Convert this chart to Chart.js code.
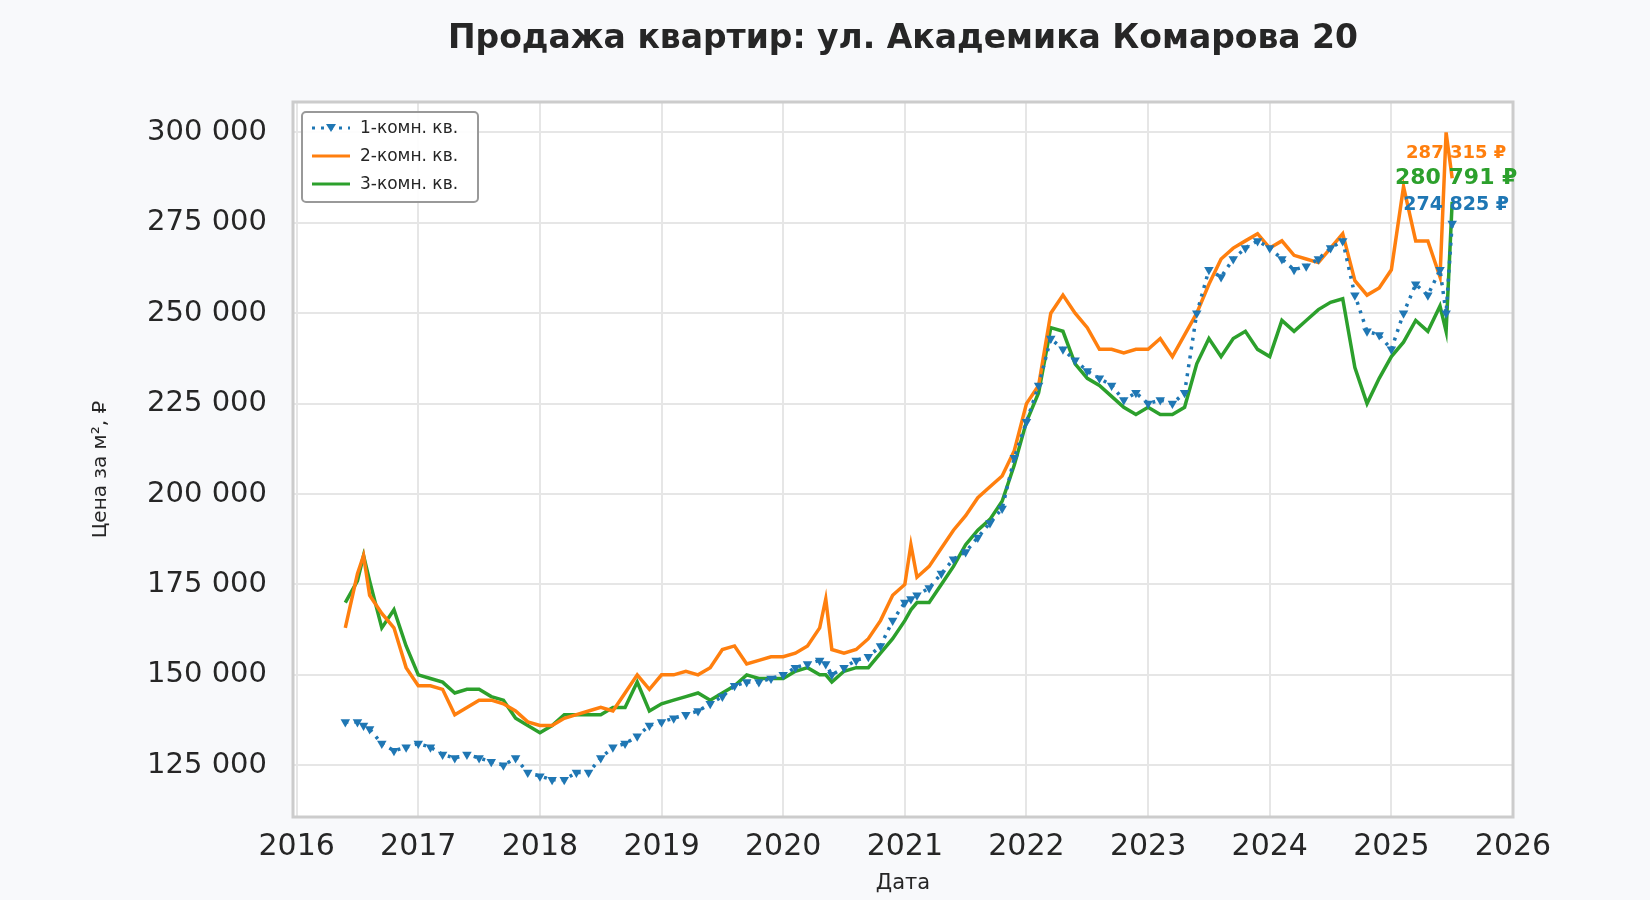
<!DOCTYPE html>
<html>
<head>
<meta charset="utf-8">
<script src="https://cdn.jsdelivr.net/npm/chart.js@4"></script>
<style>
  html, body { margin: 0; padding: 0; background: #f8f9fb; }
  #wrap { width: 1650px; height: 900px; position: relative; }
</style>
</head>
<body>
<div id="wrap"><canvas id="lineChart" width="1650" height="900"></canvas></div>
<script>
const dates = [2016.4, 2016.5, 2016.55, 2016.6, 2016.7, 2016.8, 2016.9,
  2017.0, 2017.1, 2017.2, 2017.3, 2017.4, 2017.5, 2017.6, 2017.7, 2017.8, 2017.9,
  2018.0, 2018.1, 2018.2, 2018.3, 2018.4, 2018.5, 2018.6, 2018.7, 2018.8, 2018.9,
  2019.0, 2019.1, 2019.2, 2019.3, 2019.4, 2019.5, 2019.6, 2019.7, 2019.8, 2019.9,
  2020.0, 2020.1, 2020.2, 2020.3, 2020.35, 2020.4, 2020.5, 2020.6, 2020.7, 2020.8, 2020.9,
  2021.0, 2021.05, 2021.1, 2021.2, 2021.3, 2021.4, 2021.5, 2021.6, 2021.7, 2021.8, 2021.9,
  2022.0, 2022.1, 2022.2, 2022.3, 2022.4, 2022.5, 2022.6, 2022.7, 2022.8, 2022.9,
  2023.0, 2023.1, 2023.2, 2023.3, 2023.4, 2023.5, 2023.6, 2023.7, 2023.8, 2023.9,
  2024.0, 2024.1, 2024.2, 2024.3, 2024.4, 2024.5, 2024.6, 2024.7, 2024.8, 2024.9,
  2025.0, 2025.1, 2025.2, 2025.3, 2025.4, 2025.45, 2025.5];

// тыс. руб за м²
const room1 = [137, 137, 136, 135, 131, 129, 130,
  131, 130, 128, 127, 128, 127, 126, 125, 127, 123,
  122, 121, 121, 123, 123, 127, 130, 131, 133, 136,
  137, 138, 139, 140, 142, 144, 147, 148, 148, 149,
  150, 152, 153, 154, 153, 150, 152, 154, 155, 158, 165,
  170, 171, 172, 174, 178, 182, 184, 188, 192, 196, 210,
  220, 230, 243, 240, 237, 234, 232, 230, 226, 228,
  225, 226, 225, 228, 250, 262, 260, 265, 268, 270,
  268, 265, 262, 263, 265, 268, 270, 255, 245, 244,
  240, 250, 258, 255, 262, 250, 274.825];

const room2 = [163, 178, 183, 172, 167, 163, 152,
  147, 147, 146, 139, 141, 143, 143, 142, 140, 137,
  136, 136, 138, 139, 140, 141, 140, 145, 150, 146,
  150, 150, 151, 150, 152, 157, 158, 153, 154, 155,
  155, 156, 158, 163, 171, 157, 156, 157, 160, 165, 172,
  175, 186, 177, 180, 185, 190, 194, 199, 202, 205, 212,
  225, 230, 250, 255, 250, 246, 240, 240, 239, 240,
  240, 243, 238, 244, 250, 258, 265, 268, 270, 272,
  268, 270, 266, 265, 264, 268, 272, 259, 255, 257,
  262, 285, 270, 270, 260, 300, 287.315];

const room3 = [170, 176, 183, 176, 163, 168, 158,
  150, 149, 148, 145, 146, 146, 144, 143, 138, 136,
  134, 136, 139, 139, 139, 139, 141, 141, 148, 140,
  142, 143, 144, 145, 143, 145, 147, 150, 149, 149,
  149, 151, 152, 150, 150, 148, 151, 152, 152, 156, 160,
  165, 168, 170, 170, 175, 180, 186, 190, 193, 198, 208,
  220, 228, 246, 245, 236, 232, 230, 227, 224, 222,
  224, 222, 222, 224, 236, 243, 238, 243, 245, 240,
  238, 248, 245, 248, 251, 253, 254, 235, 225, 232,
  238, 242, 248, 245, 252, 245, 280.791];

const seriesNames = ['1-комн. кв.', '2-комн. кв.', '3-комн. кв.'];
const seriesColors = ['#1f77b4', '#ff7f0e', '#2ca02c'];
const yearTicks = [2016, 2017, 2018, 2019, 2020, 2021, 2022, 2023, 2024, 2025, 2026];
const priceTicks = [125000, 150000, 175000, 200000, 225000, 250000, 275000, 300000];

const toPoints = (vals) => dates.map((d, i) => ({ x: d, y: vals[i] * 1000 }));
const fmt = (v) => Math.round(v).toString().replace(/\B(?=(\d{3})+(?!\d))/g, ' ');
const FONT = 'DejaVu Sans';

const plotFrame = {
  id: 'plotFrame',
  beforeDraw(chart) {
    const { ctx, chartArea: a } = chart;
    ctx.save();
    ctx.fillStyle = '#ffffff';
    ctx.fillRect(a.left, a.top, a.right - a.left, a.bottom - a.top);
    ctx.restore();
  },
  afterDraw(chart) {
    const { ctx, chartArea: a } = chart;
    ctx.save();
    ctx.strokeStyle = '#cccccc';
    ctx.lineWidth = 3;
    ctx.strokeRect(a.left, a.top, a.right - a.left, a.bottom - a.top);

    // title and y title
    ctx.fillStyle = '#262626';
    ctx.textAlign = 'center';
    ctx.textBaseline = 'middle';
    ctx.font = `bold 33px "${FONT}"`;
    ctx.fillText('Продажа квартир: ул. Академика Комарова 20', (a.left + a.right) / 2, 39);
    ctx.save();
    ctx.translate(101, (a.top + a.bottom) / 2 + 10);
    ctx.rotate(-Math.PI / 2);
    ctx.font = `20px "${FONT}"`;
    ctx.fillText('Цена за м², ₽', 0, 0);
    ctx.restore();

    // end labels
    const xs = chart.scales.x, ys = chart.scales.y;
    const last = dates.length - 1;
    const labels = [
      { v: room2[last], c: seriesColors[1], dy: -25, size: 18 },
      { v: room3[last], c: seriesColors[2], dy: -24, size: 22 },
      { v: room1[last], c: seriesColors[0], dy: -18, size: 19 },
    ];
    labels.forEach((l) => {
      ctx.font = `bold ${l.size}px "${FONT}"`;
      ctx.fillStyle = l.c;
      ctx.fillText(fmt(l.v * 1000) + ' ₽', xs.getPixelForValue(dates[last]) + 4, ys.getPixelForValue(l.v * 1000) + l.dy);
    });

    // legend
    const lx = a.left + 9, ly = a.top + 10, lw = 176, lh = 90;
    ctx.fillStyle = 'rgba(255,255,255,0.9)';
    ctx.strokeStyle = '#999999';
    ctx.lineWidth = 2;
    ctx.beginPath();
    ctx.roundRect(lx, ly, lw, lh, 4);
    ctx.fill();
    ctx.stroke();
    ctx.font = `17px "${FONT}"`;
    ctx.textAlign = 'left';
    seriesNames.forEach((name, i) => {
      const yy = ly + 16 + i * 28;
      ctx.strokeStyle = seriesColors[i];
      ctx.lineWidth = 3;
      ctx.setLineDash(i === 0 ? [3, 6] : []);
      ctx.beginPath();
      ctx.moveTo(lx + 10, yy);
      ctx.lineTo(lx + 48, yy);
      ctx.stroke();
      ctx.setLineDash([]);
      if (i === 0) {
        ctx.fillStyle = seriesColors[0];
        ctx.beginPath();
        ctx.moveTo(lx + 24, yy - 4);
        ctx.lineTo(lx + 34, yy - 4);
        ctx.lineTo(lx + 29, yy + 4);
        ctx.closePath();
        ctx.fill();
      }
      ctx.fillStyle = '#262626';
      ctx.fillText(name, lx + 58, yy + 1);
    });
    ctx.restore();
  },
};

new Chart(document.getElementById('lineChart').getContext('2d'), {
  type: 'line',
  data: {
    datasets: [
      {
        label: seriesNames[0],
        data: toPoints(room1),
        borderColor: seriesColors[0],
        backgroundColor: seriesColors[0],
        borderWidth: 3.5,
        borderDash: [3, 6],
        pointStyle: 'triangle',
        rotation: 180,
        pointRadius: 5.5,
        pointBorderWidth: 0,
        tension: 0,
      },
      {
        label: seriesNames[1],
        data: toPoints(room2),
        borderColor: seriesColors[1],
        backgroundColor: seriesColors[1],
        borderWidth: 3.5,
        pointRadius: 0,
        tension: 0,
      },
      {
        label: seriesNames[2],
        data: toPoints(room3),
        borderColor: seriesColors[2],
        backgroundColor: seriesColors[2],
        borderWidth: 3.5,
        pointRadius: 0,
        tension: 0,
      },
    ],
  },
  options: {
    responsive: false,
    animation: false,
    layout: { padding: { left: 0, right: 137, top: 102, bottom: 0 } },
    plugins: {
      legend: { display: false },
      tooltip: { enabled: false },
      title: { display: false },
    },
    scales: {
      x: {
        type: 'linear',
        min: 2015.97,
        max: 2026,
        afterBuildTicks: (s) => { s.ticks = yearTicks.map((v) => ({ value: v })); },
        ticks: { color: '#262626', font: { family: FONT, size: 30 }, padding: 12, maxRotation: 0, callback: (v) => String(v) },
        grid: { color: '#e6e6e6', lineWidth: 2, drawTicks: false },
        border: { display: false },
        title: { display: true, text: 'Дата', color: '#262626', font: { family: FONT, size: 21 }, padding: { top: 8 } },
        afterFit: (s) => { s.height = 83; },
      },
      y: {
        min: 110700,
        max: 308400,
        afterBuildTicks: (s) => { s.ticks = priceTicks.map((v) => ({ value: v })); },
        ticks: { color: '#262626', font: { family: FONT, size: 29 }, padding: 26, callback: (v) => fmt(v) },
        grid: { color: '#e6e6e6', lineWidth: 2, drawTicks: false },
        border: { display: false },
        afterFit: (s) => { s.width = 293; },
      },
    },
  },
  plugins: [plotFrame],
});
</script>
</body>
</html>
